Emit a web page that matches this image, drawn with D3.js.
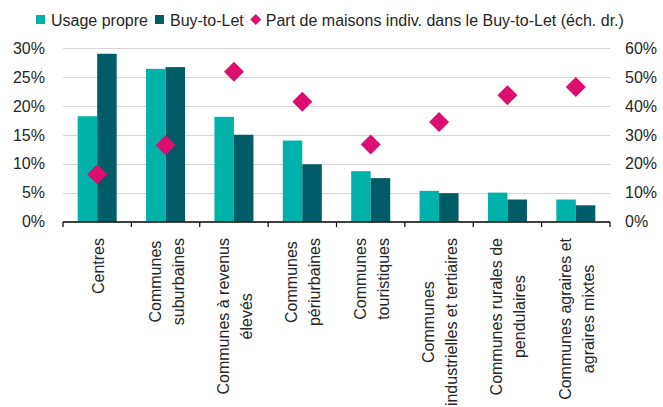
<!DOCTYPE html>
<html><head><meta charset="utf-8">
<script src="https://cdn.jsdelivr.net/npm/d3@7"></script>
<style>
html,body{margin:0;padding:0;background:#fff;}
svg{display:block;font-family:"Liberation Sans",Arial,Helvetica,sans-serif;}
</style></head>
<body>
<svg id="c" width="663" height="407"></svg>
<script>
const categories = [
  ["Centres"],
  ["Communes", "suburbaines"],
  ["Communes à revenus", "élevés"],
  ["Communes", "périurbaines"],
  ["Communes", "touristiques"],
  ["Communes", "industrielles et tertiaires"],
  ["Communes rurales de", "pendulaires"],
  ["Communes agraires et", "agraires mixtes"]
];
const usagePropre = [18.2, 26.4, 18.1, 14.0, 8.7, 5.3, 5.0, 3.8];
const buyToLet    = [29.0, 26.7, 15.0, 9.9, 7.5, 4.9, 3.8, 2.8];
const partMaisons = [16.3, 26.4, 51.8, 41.4, 26.6, 34.4, 43.7, 46.5];
const leftTicks  = [0, 5, 10, 15, 20, 25, 30];
const rightTicks = [0, 10, 20, 30, 40, 50, 60];
const seriesNames = ["Usage propre", "Buy-to-Let", "Part de maisons indiv. dans le Buy-to-Let (éch. dr.)"];
const colors = ["#00b2aa", "#005d68", "#dc0f70"];

const svg = d3.select("#c");
const keys = categories.map((d, i) => i);
const x = d3.scaleBand().domain(keys).range([63, 610]).padding(0);
const yL = d3.scaleLinear().domain([0, 30]).range([221.5, 48]);
const yR = d3.scaleLinear().domain([0, 60]).range([221.5, 48]);
const groupW = 39;
const xs = d3.scaleBand().domain([0, 1])
  .range([(x.bandwidth() - groupW) / 2, (x.bandwidth() + groupW) / 2]);

// gridlines
svg.append("g").selectAll("line").data(leftTicks.filter(t => t > 0)).join("line")
  .attr("x1", 63).attr("x2", 610)
  .attr("y1", d => Math.round(yL(d)) + 0.5).attr("y2", d => Math.round(yL(d)) + 0.5)
  .attr("stroke", "#d6d6d6").attr("stroke-width", 1);

// bars
const bars = svg.append("g");
[usagePropre, buyToLet].forEach((arr, s) => {
  bars.selectAll(".b" + s).data(arr).join("rect")
    .attr("x", (d, i) => x(i) + xs(s))
    .attr("width", xs.bandwidth())
    .attr("y", d => yL(d))
    .attr("height", d => yL(0) - yL(d))
    .attr("fill", colors[s]);
});

// x axis
const axisY = 222;
svg.append("line").attr("x1", 63).attr("x2", 610).attr("y1", axisY).attr("y2", axisY)
  .attr("stroke", "#000").attr("stroke-width", 1.5);
const edges = keys.map(k => x(k)).concat([x.range()[1]]);
svg.append("g").selectAll("line").data(edges).join("line")
  .attr("x1", d => d).attr("x2", d => d).attr("y1", axisY).attr("y2", axisY + 5)
  .attr("stroke", "#000").attr("stroke-width", 1.2);

// diamonds
const diamond = d3.symbol().type(d3.symbolSquare).size(200);
svg.append("g").selectAll("path").data(partMaisons).join("path")
  .attr("d", diamond)
  .attr("transform", (d, i) => `translate(${x(i) + x.bandwidth() / 2},${yR(d)}) rotate(45)`)
  .attr("fill", colors[2]);

// y axis labels
const tcol = "#262626";
svg.append("g").selectAll("text").data(leftTicks).join("text")
  .attr("x", 45).attr("y", d => yL(d)).attr("dy", "0.36em")
  .attr("text-anchor", "end").attr("font-size", 16).attr("fill", tcol)
  .text(d => d + "%");
svg.append("g").selectAll("text").data(rightTicks).join("text")
  .attr("x", 625).attr("y", d => yR(d)).attr("dy", "0.36em")
  .attr("text-anchor", "start").attr("font-size", 16).attr("fill", tcol)
  .text(d => d + "%");

// x labels
const lineH = 23;
categories.forEach((lines, i) => {
  const g = svg.append("g")
    .attr("transform", `translate(${x(i) + x.bandwidth() / 2},238) rotate(-90)`);
  const ts = lines.map((ln, j) => g.append("text")
    .attr("font-size", 16).attr("fill", tcol).attr("text-anchor", "middle")
    .attr("y", 6.5 + (j - (lines.length - 1) / 2) * lineH)
    .text(ln));
  const maxW = d3.max(ts, t => t.node().getComputedTextLength());
  ts.forEach(t => t.attr("x", -maxW / 2));
});

// legend
const leg = svg.append("g");
let lx = 36;
seriesNames.forEach((name, s) => {
  if (s < 2) {
    leg.append("rect").attr("x", lx).attr("y", 15).attr("width", 9).attr("height", 9).attr("fill", colors[s]);
  } else {
    leg.append("path").attr("d", d3.symbol().type(d3.symbolSquare).size(60))
      .attr("transform", `translate(${lx + 5},19.5) rotate(45)`).attr("fill", colors[s]);
  }
  const t = leg.append("text").attr("x", lx + 15).attr("y", 25.5)
    .attr("font-size", 16).attr("fill", tcol).text(name);
  lx = lx + 15 + t.node().getComputedTextLength() + 7;
});
</script>
</body></html>
